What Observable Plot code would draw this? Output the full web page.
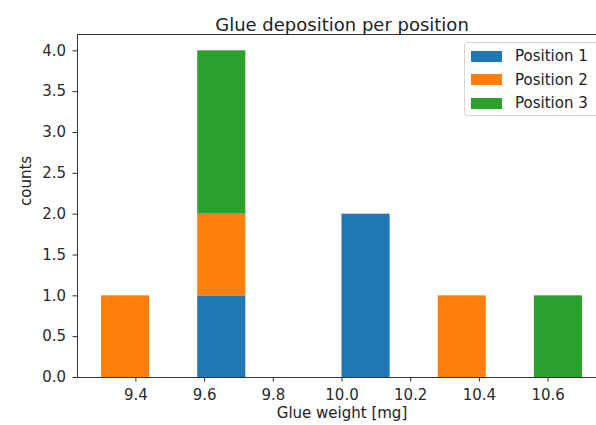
<!DOCTYPE html>
<html>
<head>
<meta charset="utf-8">
<script src="https://cdn.jsdelivr.net/npm/d3@7"></script>
<script src="https://cdn.jsdelivr.net/npm/@observablehq/plot@0.6"></script>
<style>
  html, body { margin: 0; padding: 0; background: #fff; overflow: hidden; }
  #wrap { position: relative; width: 596px; height: 425px; overflow: hidden; font-family: "DejaVu Sans", sans-serif; }
  #legend { position: absolute; left: 464px; top: 42px; width: 140px; height: 74px;
    border: 1px solid #d6d6d6; border-radius: 3px; background: rgba(255,255,255,0.8); box-sizing: border-box; }
  .item { position: absolute; left: 6px; height: 20px; display: flex; align-items: center; font-size: 15px; color: #222; }
  .sw { width: 31px; height: 11px; margin-right: 13px; }
</style>
</head>
<body>
<div id="wrap"><div id="legend"></div></div>
<script>
// Series and histogram counts per bin (10 bins, width 0.14 mg, from 9.3 to 10.7)
const series = ["Position 1", "Position 2", "Position 3"];
const colors = ["#1f77b4", "#ff7f0e", "#2ca02c"];
const binLow  = [9.30, 9.44, 9.58, 9.72, 9.86, 10.00, 10.14, 10.28, 10.42, 10.56];
const binHigh = [9.44, 9.58, 9.72, 9.86, 10.00, 10.14, 10.28, 10.42, 10.56, 10.70];
const position1 = [0, 0, 1, 0, 0, 2, 0, 0, 0, 0];
const position2 = [1, 0, 1, 0, 0, 0, 0, 1, 0, 0];
const position3 = [0, 0, 2, 0, 0, 0, 0, 0, 0, 1];
const xTicks = [9.4, 9.6, 9.8, 10.0, 10.2, 10.4, 10.6];
const yTicks = [0, 0.5, 1.0, 1.5, 2.0, 2.5, 3.0, 3.5, 4.0];
const title = "Glue deposition per position";
const xLabel = "Glue weight [mg]";
const yLabel = "counts";

const counts = [position1, position2, position3];
const data = [];
counts.forEach((arr, s) => arr.forEach((c, i) => {
  if (c > 0) data.push({lo: binLow[i], hi: binHigh[i], count: c, pos: series[s]});
}));

const chart = Plot.plot({
  width: 620,
  height: 425,
  marginLeft: 77,
  marginRight: 14,
  marginTop: 34,
  marginBottom: 48,
  style: {fontFamily: "DejaVu Sans, sans-serif", fontSize: "15px", color: "#2a2a2a", maxWidth: "none", background: "white"},
  x: {domain: [9.23, 10.77], ticks: xTicks, tickFormat: ".1f", tickSize: 4.5, tickPadding: 7, label: null},
  y: {domain: [0, 4.2], ticks: yTicks, tickFormat: ".1f", tickSize: 4.5, tickPadding: 7, label: null},
  color: {domain: series, range: colors},
  marks: [
    Plot.rectY(data, Plot.stackY({x1: "lo", x2: "hi", y: "count", fill: "pos", inset: 0})),
    Plot.frame({stroke: "#333", strokeWidth: 1}),
    Plot.text([title], {frameAnchor: "top", dy: -16, fontSize: 18, fill: "#222"}),
    Plot.text([xLabel], {frameAnchor: "bottom", dy: 40, fill: "#222"}),
    Plot.text([yLabel], {frameAnchor: "left", dx: -51, rotate: -90, fill: "#222"})
  ]
});
document.getElementById("wrap").prepend(chart);

const legend = document.getElementById("legend");
series.forEach((s, i) => {
  const item = document.createElement("div");
  item.className = "item";
  item.style.top = (3 + i * 23.6) + "px";
  const sw = document.createElement("div");
  sw.className = "sw";
  sw.style.background = colors[i];
  const t = document.createElement("span");
  t.textContent = s;
  item.appendChild(sw);
  item.appendChild(t);
  legend.appendChild(item);
});
</script>
</body>
</html>
